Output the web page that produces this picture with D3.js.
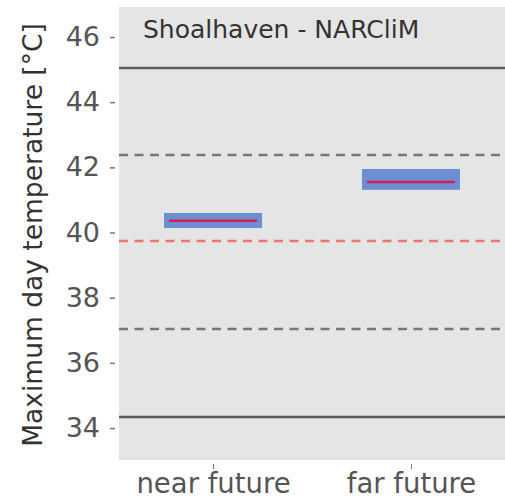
<!DOCTYPE html>
<html>
<head>
<meta charset="utf-8">
<script src="https://cdn.jsdelivr.net/npm/d3@7"></script>
<style>
  body { margin: 0; background: #fff; }
  svg { display: block; font-family: 'DejaVu Sans', sans-serif; }
</style>
</head>
<body>
<svg id="chart" width="505" height="499"></svg>
<script>
// Data
const periods = ['near future', 'far future'];
const boxLow = [40.14, 41.31];
const boxHigh = [40.60, 41.95];
const medians = [40.36, 41.55];

const refSolid = [45.05, 34.34];
const refDashed = [42.38, 37.04];
const refMedian = 39.74;

const yTicks = [34, 36, 38, 40, 42, 44, 46];

const svg = d3.select('#chart');
const width = 505;
const height = 499;
const margin = { top: 7, right: 0, bottom: 39, left: 119 };

const x = d3.scalePoint()
  .domain(periods)
  .range([margin.left, width - margin.right])
  .padding(0.475);

const y = d3.scaleLinear()
  .domain([33.02, 46.92])
  .range([height - margin.bottom, margin.top]);

const boxW = 98;
const plotW = width - margin.left - margin.right;

// Panel background
svg.append('rect')
  .attr('x', margin.left)
  .attr('y', margin.top)
  .attr('width', plotW)
  .attr('height', height - margin.top - margin.bottom)
  .attr('fill', '#e5e5e5');

// Reference lines
svg.selectAll('.solid')
  .data(refSolid)
  .join('line')
  .attr('x1', margin.left)
  .attr('x2', width - margin.right)
  .attr('y1', d => y(d))
  .attr('y2', d => y(d))
  .attr('stroke', '#5c5c5c')
  .attr('stroke-width', 2.5);

svg.selectAll('.dashed')
  .data(refDashed)
  .join('line')
  .attr('x1', margin.left)
  .attr('x2', width - margin.right)
  .attr('y1', d => y(d))
  .attr('y2', d => y(d))
  .attr('stroke', '#777')
  .attr('stroke-width', 2.5)
  .attr('stroke-dasharray', '9,6.5');

svg.append('line')
  .attr('x1', margin.left)
  .attr('x2', width - margin.right)
  .attr('y1', y(refMedian))
  .attr('y2', y(refMedian))
  .attr('stroke', '#f07474')
  .attr('stroke-width', 2.5)
  .attr('stroke-dasharray', '9,6.5');

// Boxes
svg.selectAll('.box')
  .data(periods)
  .join('rect')
  .attr('x', d => x(d) - boxW / 2)
  .attr('y', (d, i) => y(boxHigh[i]))
  .attr('width', boxW)
  .attr('height', (d, i) => y(boxLow[i]) - y(boxHigh[i]))
  .attr('fill', '#6b8fd2');

svg.selectAll('.med')
  .data(periods)
  .join('line')
  .attr('x1', d => x(d) - boxW / 2 + 5)
  .attr('x2', d => x(d) + boxW / 2 - 5)
  .attr('y1', (d, i) => y(medians[i]))
  .attr('y2', (d, i) => y(medians[i]))
  .attr('stroke', '#d3204c')
  .attr('stroke-width', 2.5);

// Y axis
const yAxis = svg.append('g')
  .attr('transform', `translate(${margin.left - 4},0)`)
  .call(d3.axisLeft(y).tickValues(yTicks).tickSize(5).tickPadding(10));
yAxis.select('.domain').remove();
yAxis.selectAll('line').attr('stroke', '#777').attr('stroke-width', 1.5);
yAxis.selectAll('text')
  .attr('font-size', 27)
  .attr('font-family', 'DejaVu Sans, sans-serif')
  .attr('fill', '#555');

// X axis
const xAxis = svg.append('g')
  .attr('transform', `translate(0,${height - margin.bottom + 4})`)
  .call(d3.axisBottom(x).tickSize(5).tickPadding(4));
xAxis.select('.domain').remove();
xAxis.selectAll('line').attr('stroke', '#777').attr('stroke-width', 1);
xAxis.selectAll('text')
  .attr('font-size', 27.5)
  .attr('font-family', 'DejaVu Sans, sans-serif')
  .attr('fill', '#555');

// Title inside panel
svg.append('text')
  .attr('x', 143)
  .attr('y', 38)
  .attr('font-size', 25)
  .attr('fill', '#333')
  .text('Shoalhaven - NARCliM');

// Y label
svg.append('text')
  .attr('transform', 'rotate(-90)')
  .attr('x', -235)
  .attr('y', 42)
  .attr('text-anchor', 'middle')
  .attr('font-size', 26.5)
  .attr('fill', '#333')
  .text('Maximum day temperature [°C]');
</script>
</body>
</html>
